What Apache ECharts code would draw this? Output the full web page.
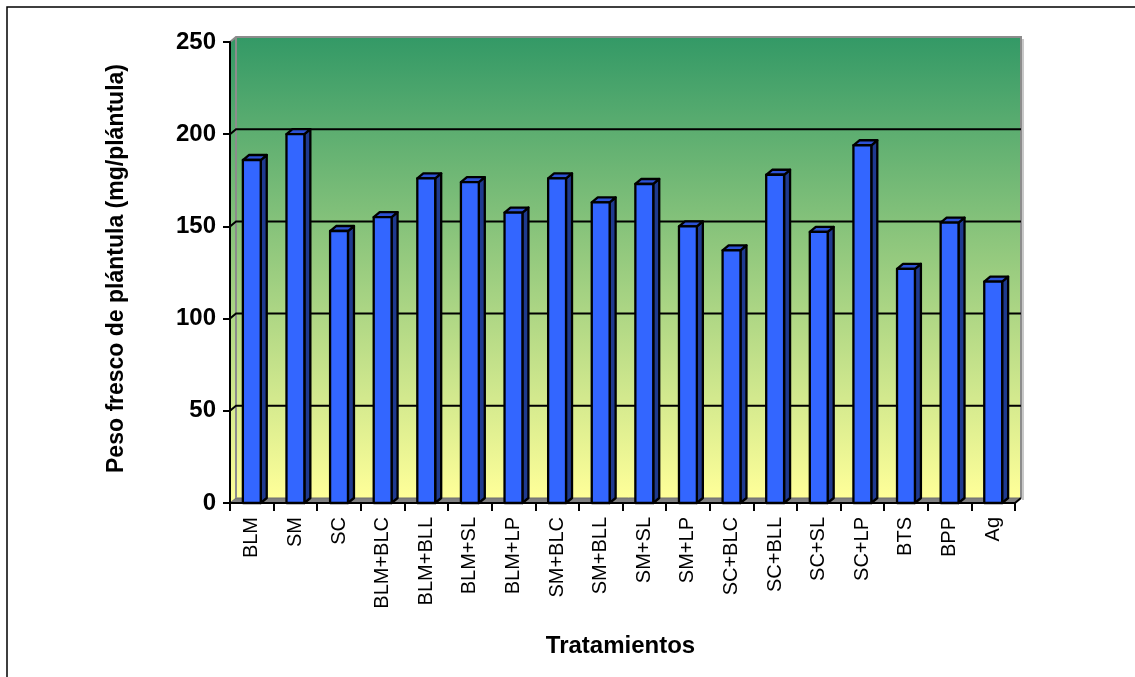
<!DOCTYPE html>
<html>
<head>
<meta charset="utf-8">
<script src="https://cdn.jsdelivr.net/npm/echarts@6/dist/echarts.min.js"></script>
<style>
  html, body { margin: 0; padding: 0; background: #ffffff; }
  #chart { width: 1135px; height: 677px; }
</style>
</head>
<body>
<div id="chart"></div>
<script>
// Treatments and fresh weight per seedling (mg/plántula)
const categories = ['BLM', 'SM', 'SC', 'BLM+BLC', 'BLM+BLL', 'BLM+SL', 'BLM+LP', 'SM+BLC', 'SM+BLL',
  'SM+SL', 'SM+LP', 'SC+BLC', 'SC+BLL', 'SC+SL', 'SC+LP', 'BTS', 'BPP', 'Ag'];
const values = [186, 200, 147.5, 155, 176, 174, 157.5, 176, 163, 173, 150, 137, 178, 147, 194, 127, 152, 120];
const yTicks = [0, 50, 100, 150, 200, 250];

const yTitle = 'Peso fresco de plántula (mg/plántula)';
const xTitle = 'Tratamientos';

const W = 1135, H = 677;
const GRID = { left: 230, top: 42, right: 120, bottom: 174 };
const DEPTH_X = 6, DEPTH_Y = 5;      // 3D offset of the back wall and bar sides
const FONT = '"Liberation Sans", Arial, sans-serif';

const chart = echarts.init(document.getElementById('chart'), null, { renderer: 'canvas' });

// Bars with a front face, a darker right side and a top face
function renderBar(params, api) {
  const i = api.value(0), v = api.value(1);
  const top = api.coord([i, v]);
  const base = api.coord([i, 0]);
  const half = api.size([1, 0])[0] * 0.205;
  const x0 = top[0] - half, x1 = top[0] + half;
  const stroke = { stroke: '#000000', lineWidth: 2.3, lineJoin: 'round' };
  return {
    type: 'group',
    children: [
      { type: 'polygon',
        shape: { points: [[x1, top[1]], [x1 + DEPTH_X, top[1] - DEPTH_Y], [x1 + DEPTH_X, base[1] - DEPTH_Y], [x1, base[1]]] },
        style: Object.assign({ fill: '#1f3a8f' }, stroke) },
      { type: 'polygon',
        shape: { points: [[x0, top[1]], [x0 + DEPTH_X, top[1] - DEPTH_Y], [x1 + DEPTH_X, top[1] - DEPTH_Y], [x1, top[1]]] },
        style: Object.assign({ fill: '#2d52d6' }, stroke) },
      { type: 'rect',
        shape: { x: x0, y: top[1], width: x1 - x0, height: base[1] - top[1] },
        style: Object.assign({ fill: '#3366ff' }, stroke) }
    ]
  };
}

chart.setOption({
  animation: false,
  backgroundColor: '#ffffff',
  grid: { left: GRID.left, top: GRID.top, right: GRID.right, bottom: GRID.bottom, containLabel: false },
  xAxis: {
    type: 'category',
    data: categories,
    boundaryGap: true,
    axisLine: { lineStyle: { color: '#000000', width: 2 } },
    axisTick: { show: true, alignWithLabel: false, length: 8, lineStyle: { color: '#000000', width: 2 } },
    axisLabel: { rotate: 90, interval: 0, margin: 14, color: '#000000', fontFamily: FONT, fontSize: 20 },
    splitLine: { show: false }
  },
  yAxis: {
    type: 'value',
    min: yTicks[0],
    max: yTicks[yTicks.length - 1],
    interval: yTicks[1] - yTicks[0],
    axisLine: { show: true, lineStyle: { color: '#000000', width: 2 } },
    axisTick: { show: true, length: 7, lineStyle: { color: '#000000', width: 2 } },
    axisLabel: { margin: 14, color: '#000000', fontFamily: FONT, fontSize: 24, fontWeight: 'bold' },
    splitLine: { show: false }
  },
  series: [{
    type: 'custom',
    renderItem: renderBar,
    data: values.map((v, i) => [i, v]),
    encode: { x: 0, y: 1 },
    z: 3
  }]
});

// Walls, floor and gridlines drawn on the back plane, derived from the axis scale
function buildBackdrop() {
  const x0 = GRID.left, x1 = W - GRID.right;
  const y0 = chart.convertToPixel({ yAxisIndex: 0 }, yTicks[yTicks.length - 1]);
  const y1 = chart.convertToPixel({ yAxisIndex: 0 }, yTicks[0]);
  const grad = new echarts.graphic.LinearGradient(0, 0, 0, 1, [
    { offset: 0, color: '#339966' },
    { offset: 1, color: '#ffff99' }
  ]);
  const els = [];
  // back wall
  els.push({ type: 'rect', z: -10, silent: true,
    shape: { x: x0 + DEPTH_X, y: y0 - DEPTH_Y, width: x1 - x0, height: y1 - y0 },
    style: { fill: grad } });
  // left side wall
  els.push({ type: 'polygon', z: -10, silent: true,
    shape: { points: [[x0, y0], [x0 + DEPTH_X, y0 - DEPTH_Y], [x0 + DEPTH_X, y1 - DEPTH_Y], [x0, y1]] },
    style: { fill: grad } });
  // floor
  els.push({ type: 'polygon', z: -9, silent: true,
    shape: { points: [[x0, y1], [x0 + DEPTH_X, y1 - DEPTH_Y], [x1 + DEPTH_X, y1 - DEPTH_Y], [x1, y1]] },
    style: { fill: '#808080', stroke: '#6e6e6e', lineWidth: 1 } });
  // wall edges
  els.push({ type: 'polyline', z: -8, silent: true,
    shape: { points: [[x0, y0], [x0 + DEPTH_X, y0 - DEPTH_Y], [x1 + DEPTH_X, y0 - DEPTH_Y], [x1 + DEPTH_X, y1 - DEPTH_Y]] },
    style: { fill: null, stroke: '#8c8c8c', lineWidth: 2 } });
  els.push({ type: 'line', z: -8, silent: true,
    shape: { x1: x0 + DEPTH_X, y1: y0 - DEPTH_Y, x2: x0 + DEPTH_X, y2: y1 - DEPTH_Y },
    style: { stroke: '#8c8c8c', lineWidth: 2 } });
  els.push({ type: 'line', z: -8, silent: true,
    shape: { x1: x1 + DEPTH_X + 2, y1: y0 - DEPTH_Y + 2, x2: x1 + DEPTH_X + 2, y2: y1 - DEPTH_Y + 2 },
    style: { stroke: '#c8c8c8', lineWidth: 2 } });
  // gridlines on the back wall
  yTicks.slice(1, -1).forEach(function (t) {
    const y = chart.convertToPixel({ yAxisIndex: 0 }, t);
    els.push({ type: 'polyline', z: -7, silent: true,
      shape: { points: [[x0, y], [x0 + DEPTH_X, y - DEPTH_Y], [x1 + DEPTH_X, y - DEPTH_Y]] },
      style: { fill: null, stroke: '#000000', lineWidth: 2 } });
  });
  // right end of the floor edge
  els.push({ type: 'line', z: 5, silent: true,
    shape: { x1: x1, y1: y1, x2: x1 + DEPTH_X, y2: y1 - DEPTH_Y },
    style: { stroke: '#000000', lineWidth: 2 } });
  // axis titles
  els.push({ type: 'text', z: 5, silent: true,
    x: 117, y: (y0 + y1) / 2 - 4, rotation: Math.PI / 2,
    style: { text: yTitle, fill: '#000000', font: 'bold 23px ' + FONT, align: 'center', verticalAlign: 'middle' } });
  els.push({ type: 'text', z: 5, silent: true,
    x: (x0 + x1) / 2 - 2, y: 646,
    style: { text: xTitle, fill: '#000000', font: 'bold 24px ' + FONT, align: 'center', verticalAlign: 'middle' } });
  // frame around the figure
  els.push({ type: 'rect', z: 6, silent: true,
    shape: { x: 7, y: 7, width: W + 20, height: H + 20 },
    style: { fill: null, stroke: '#000000', lineWidth: 1.5 } });
  chart.setOption({ graphic: { elements: els } });
}
buildBackdrop();
</script>
</body>
</html>
